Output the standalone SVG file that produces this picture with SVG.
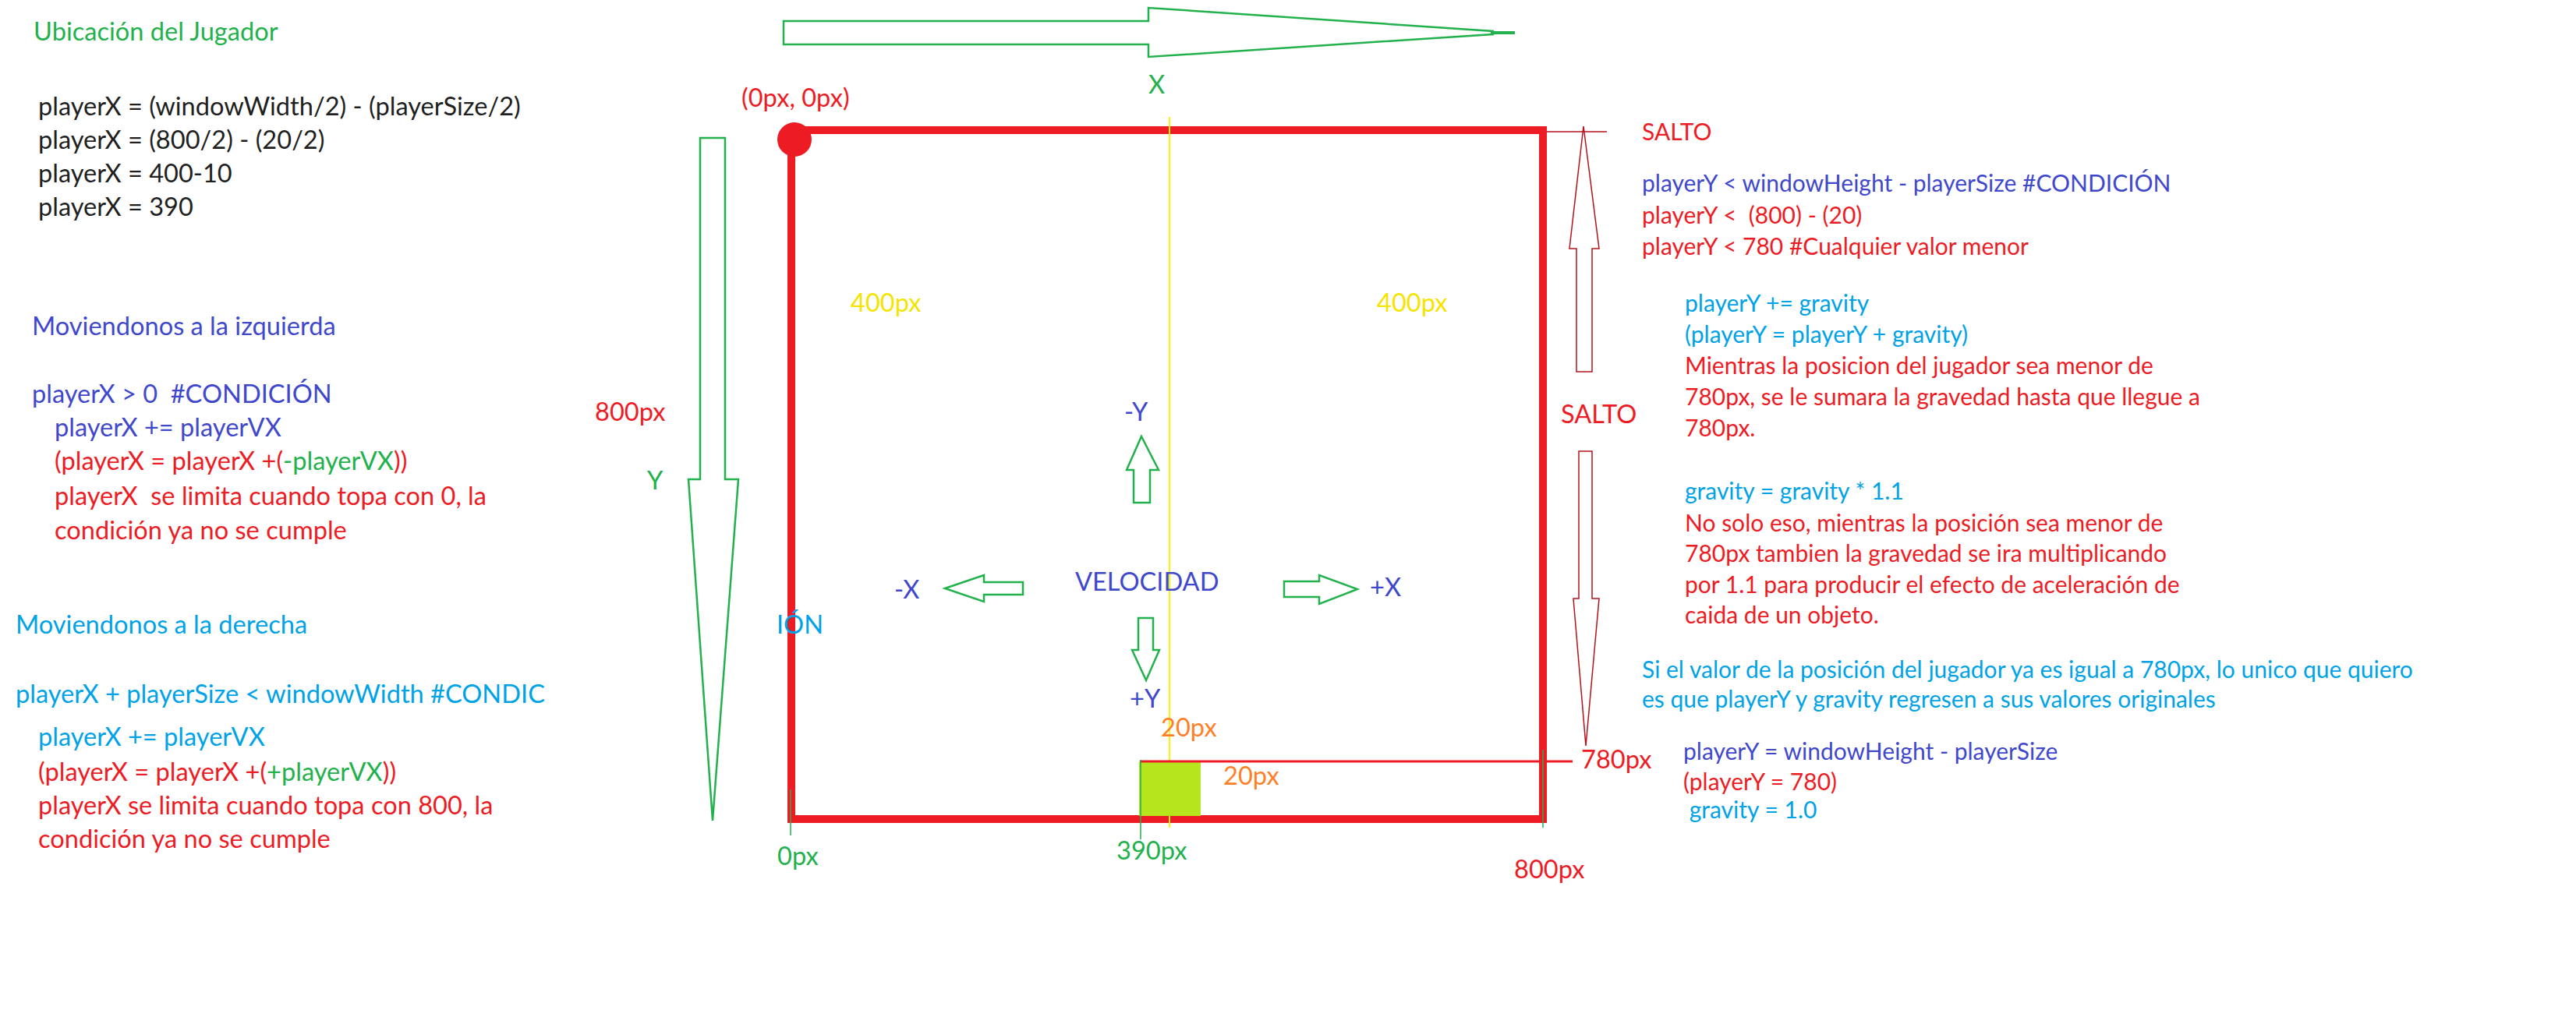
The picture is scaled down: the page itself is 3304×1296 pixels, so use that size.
<svg xmlns="http://www.w3.org/2000/svg" width="3304" height="1296" viewBox="0 0 3304 1296">
<style>
text{font-family:Lato,"Liberation Sans",sans-serif;white-space:pre}
.l{font-size:32.6px}
.r{font-size:30px}
.g{fill:#22b14c}
.k{fill:#1f1f1f}
.b{fill:#3f48cc}
.c{fill:#00a2e8}
.red{fill:#ed1c24}
.y{fill:#f5e400}
.o{fill:#ff7f27}
.ga{fill:none;stroke:#22b14c;stroke-width:2.5;stroke-linejoin:miter}
.sa{fill:none;stroke:#b5121b;stroke-width:1.5}
.tick{stroke:#22b14c;stroke-width:1.5}
</style>
<rect width="3304" height="1296" fill="#fff"/>

<g id="canvas">
  <rect x="1015" y="167" width="964" height="884" fill="none" stroke="#ed1c24" stroke-width="10"/>
  <line x1="1500" y1="150" x2="1500" y2="1062" stroke="#fff200" stroke-width="2"/>
  <circle cx="1019" cy="179" r="22" fill="#ed1c24"/>
</g>

<g id="player">
  <rect x="1461" y="977" width="79" height="70" fill="#b5e61d"/>
</g>

<g id="connectors">
  <polygon class="ga" points="1005,27 1473,27 1473,10 1915,40 1915,44 1473,73 1473,57 1005,57"/>
  <line x1="1912" y1="42" x2="1943" y2="42" stroke="#22b14c" stroke-width="4"/>
  <polygon class="ga" points="898,177 930,177 930,615 947,615 914,1053 883,615 898,615"/>
  <polygon class="ga" points="1464,560 1486,603 1475,603 1475,645 1454,645 1454,603 1445,603"/>
  <polygon class="ga" points="1460,793 1479,793 1479,834 1487,834 1470,873 1452,834 1460,834"/>
  <polygon class="ga" points="1212,755 1262,738 1262,747 1312,747 1312,763 1262,763 1262,772"/>
  <polygon class="ga" points="1647,746 1692,746 1692,738 1741,756 1692,775 1692,766 1647,766"/>
  <polygon class="sa" points="2031,162 2051,319 2042,319 2042,477 2022,477 2022,319 2013,319"/>
  <polygon class="sa" points="2025,579 2042,579 2042,768 2051,768 2034,957 2018,768 2025,768"/>
  <line x1="1984" y1="169" x2="2061" y2="169" stroke="#b5121b" stroke-width="1.5"/>
  <line x1="1462" y1="977" x2="2017" y2="977" stroke="#ed1c24" stroke-width="3"/>
  <line class="tick" x1="1014" y1="1013" x2="1014" y2="1072"/>
  <line class="tick" x1="1463" y1="975" x2="1463" y2="1077"/>
  <line class="tick" x1="1979" y1="962" x2="1979" y2="1062"/>
</g>

<g id="ubicacion" class="l">
  <text x="43" y="52" class="g">Ubicación del Jugador</text>
  <text x="49" y="148" class="k">playerX = (windowWidth/2) - (playerSize/2)</text>
  <text x="49" y="191" class="k">playerX = (800/2) - (20/2)</text>
  <text x="49" y="234" class="k">playerX = 400-10</text>
  <text x="49" y="277" class="k">playerX = 390</text>
</g>

<g id="izquierda" class="l">
  <text x="41" y="430" class="b">Moviendonos a la izquierda</text>
  <text x="41" y="517" class="b">playerX &gt; 0  #CONDICIÓN</text>
  <text x="70" y="560" class="b">playerX += playerVX</text>
  <text x="70" y="603" class="red">(playerX = playerX +(<tspan class="g">-playerVX</tspan>))</text>
  <text x="70" y="648" class="red">playerX  se limita cuando topa con 0, la</text>
  <text x="70" y="692" class="red">condición ya no se cumple</text>
</g>

<g id="derecha" class="l">
  <text x="20" y="813" class="c">Moviendonos a la derecha</text>
  <text x="20" y="902" class="c">playerX + playerSize &lt; windowWidth #CONDIC</text>
  <text x="49" y="957" class="c">playerX += playerVX</text>
  <text x="49" y="1002" class="red">(playerX = playerX +(<tspan class="g">+playerVX</tspan>))</text>
  <text x="49" y="1045" class="red">playerX se limita cuando topa con 800, la</text>
  <text x="49" y="1088" class="red">condición ya no se cumple</text>
</g>

<g id="labels" class="l">
  <text x="951" y="137" class="red">(0px, 0px)</text>
  <text x="1473" y="120" class="g">X</text>
  <text x="763" y="540" class="red">800px</text>
  <text x="830" y="628" class="g">Y</text>
  <text x="1091" y="400" class="y">400px</text>
  <text x="1766" y="400" class="y">400px</text>
  <text x="1442" y="540" class="b">-Y</text>
  <text x="1147" y="768" class="b">-X</text>
  <text x="1379" y="758" class="b">VELOCIDAD</text>
  <text x="1757" y="765" class="b">+X</text>
  <text x="996" y="813" class="c">IÓN</text>
  <text x="1449" y="908" class="b">+Y</text>
  <text x="1489" y="945" class="o">20px</text>
  <text x="1569" y="1007" class="o">20px</text>
  <text x="997" y="1110" class="g">0px</text>
  <text x="1432" y="1103" class="g">390px</text>
  <text x="1942" y="1127" class="red">800px</text>
  <text x="2028" y="986" class="red">780px</text>
  <text x="2002" y="543" class="red">SALTO</text>
</g>

<g id="salto" class="r">
  <text x="2106" y="180" class="red">SALTO</text>
  <text x="2106" y="246" class="b">playerY &lt; windowHeight - playerSize #CONDICIÓN</text>
  <text x="2106" y="287" class="red">playerY &lt;  (800) - (20)</text>
  <text x="2106" y="327" class="red">playerY &lt; 780 #Cualquier valor menor</text>
  <text x="2161" y="400" class="c">playerY += gravity</text>
  <text x="2161" y="440" class="c">(playerY = playerY + gravity)</text>
  <text x="2161" y="480" class="red">Mientras la posicion del jugador sea menor de</text>
  <text x="2161" y="520" class="red">780px, se le sumara la gravedad hasta que llegue a</text>
  <text x="2161" y="560" class="red">780px.</text>
  <text x="2161" y="641" class="c">gravity = gravity * 1.1</text>
  <text x="2161" y="682" class="red">No solo eso, mientras la posición sea menor de</text>
  <text x="2161" y="721" class="red">780px tambien la gravedad se ira multiplicando</text>
  <text x="2161" y="761" class="red">por 1.1 para producir el efecto de aceleración de</text>
  <text x="2161" y="800" class="red">caida de un objeto.</text>
  <text x="2106" y="870" class="c">Si el valor de la posición del jugador ya es igual a 780px, lo unico que quiero</text>
  <text x="2106" y="908" class="c">es que playerY y gravity regresen a sus valores originales</text>
  <text x="2159" y="975" class="b">playerY = windowHeight - playerSize</text>
  <text x="2159" y="1014" class="red">(playerY = 780)</text>
  <text x="2159" y="1050" class="c"> gravity = 1.0</text>
</g>
</svg>
